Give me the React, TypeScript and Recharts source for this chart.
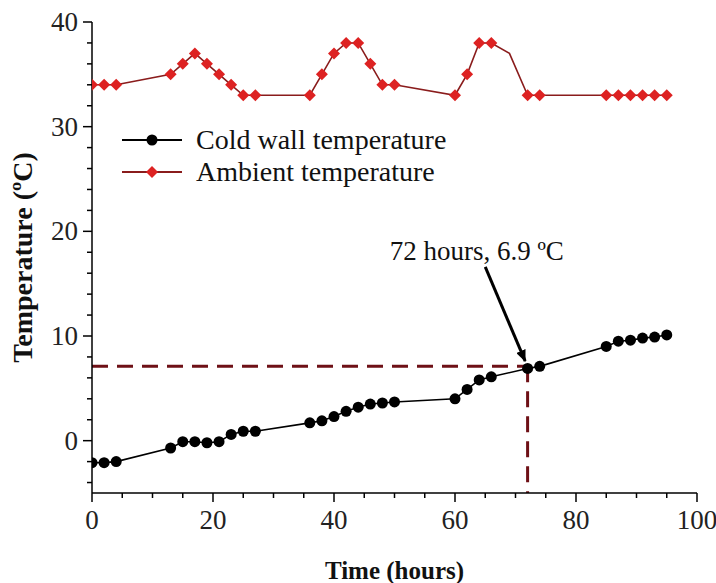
import React from "react";
import {
  ComposedChart,
  Line,
  XAxis,
  YAxis,
  ReferenceLine,
  ReferenceDot,
  Legend,
} from "recharts";

// Ambient temperature (red diamonds); the point at 69 h is only a bend in the line
const ambientTime = [0, 2, 4, 13, 15, 17, 19, 21, 23, 25, 27, 36, 38, 40, 42, 44, 46, 48, 50, 60, 62, 64, 66, 69, 72, 74, 85, 87, 89, 91, 93, 95];
const ambientTemp = [34, 34, 34, 35, 36, 37, 36, 35, 34, 33, 33, 33, 35, 37, 38, 38, 36, 34, 34, 33, 35, 38, 38, 37, 33, 33, 33, 33, 33, 33, 33, 33];
const ambientMarker = ambientTime.map((t) => t !== 69);

// Cold wall temperature (black circles)
const coldTime = [0, 2, 4, 13, 15, 17, 19, 21, 23, 25, 27, 36, 38, 40, 42, 44, 46, 48, 50, 60, 62, 64, 66, 72, 74, 85, 87, 89, 91, 93, 95];
const coldTemp = [-2.1, -2.1, -2.0, -0.7, -0.1, -0.1, -0.2, -0.1, 0.6, 0.9, 0.9, 1.7, 1.9, 2.3, 2.8, 3.2, 3.5, 3.6, 3.7, 4.0, 4.9, 5.8, 6.1, 6.9, 7.1, 9.0, 9.5, 9.6, 9.8, 9.9, 10.1];

// Ticks
const xTicks = [0, 5, 10, 15, 20, 25, 30, 35, 40, 45, 50, 55, 60, 65, 70, 75, 80, 85, 90, 95, 100];
const yTicks = [-4, -2, 0, 2, 4, 6, 8, 10, 12, 14, 16, 18, 20, 22, 24, 26, 28, 30, 32, 34, 36, 38, 40];

// Marked point
const markTime = 72;
const markTemp = 7.1;
const markLabel = "72 hours, 6.9 ºC";

const ambientData = ambientTime.map((t, i) => ({ t, v: ambientTemp[i], mark: ambientMarker[i] }));
const coldData = coldTime.map((t, i) => ({ t, v: coldTemp[i] }));

const FONT = "'Liberation Serif', 'Times New Roman', serif";
const RED_LINE = "#8a1c1c";
const RED_MARK = "#dd2222";
const DASH = "#6e1016";

const Diamond = ({ cx, cy, fill }: any) => (
  <polygon points={`${cx},${cy - 6} ${cx + 6},${cy} ${cx},${cy + 6} ${cx - 6},${cy}`} fill={fill} />
);

const ambientDot = (props: any) => {
  const { cx, cy, payload, index } = props;
  if (!payload.mark) return <g key={`a-${index}`} />;
  return <Diamond key={`a-${index}`} cx={cx} cy={cy} fill={RED_MARK} />;
};

const XTick = ({ x, y, payload }: any) => {
  const major = payload.value % 20 === 0;
  return (
    <g>
      <line x1={x} y1={y} x2={x} y2={y + (major ? 9 : 5)} stroke="#000" strokeWidth={1.5} />
      {major && (
        <text x={x} y={y + 36} textAnchor="middle" fontFamily={FONT} fontSize={27} fill="#222">
          {payload.value}
        </text>
      )}
    </g>
  );
};

const YTick = ({ x, y, payload }: any) => {
  const major = payload.value % 10 === 0;
  return (
    <g>
      <line x1={x - (major ? 9 : 5)} y1={y} x2={x} y2={y} stroke="#000" strokeWidth={1.5} />
      {major && (
        <text x={x - 14} y={y + 9} textAnchor="end" fontFamily={FONT} fontSize={27} fill="#222">
          {payload.value}
        </text>
      )}
    </g>
  );
};

const renderLegend = () => {
  const rows = [
    { name: "Cold wall temperature", color: "#000", mark: "circle" },
    { name: "Ambient temperature", color: RED_LINE, mark: "diamond" },
  ];
  return (
    <div style={{ fontFamily: FONT, fontSize: 28, color: "#111", lineHeight: "32px" }}>
      {rows.map((r) => (
        <div key={r.name} style={{ display: "flex", alignItems: "center", height: 32 }}>
          <svg width={76} height={20}>
            <line x1={2} y1={10} x2={62} y2={10} stroke={r.color} strokeWidth={2} />
            {r.mark === "circle" ? (
              <circle cx={32} cy={10} r={5.5} fill="#000" />
            ) : (
              <Diamond cx={32} cy={10} fill={RED_MARK} />
            )}
          </svg>
          <span>{r.name}</span>
        </div>
      ))}
    </div>
  );
};

export default function App() {
  return (
    <div style={{ position: "absolute", left: 0, top: 0, width: 716, height: 583, background: "#fff" }}>
      <ComposedChart width={716} height={583} margin={{ top: 22, right: 19, left: 0, bottom: 0 }}>
        <defs>
          <marker id="arrowHead" markerWidth="12" markerHeight="10" refX="11" refY="5" orient="auto" markerUnits="userSpaceOnUse">
            <path d="M0,0 L12,5 L0,10 Z" fill="#000" />
          </marker>
        </defs>
        <XAxis
          dataKey="t"
          type="number"
          domain={[0, 100]}
          ticks={xTicks}
          interval={0}
          height={90}
          tickSize={0}
          tickMargin={0}
          tickLine={false}
          axisLine={{ stroke: "#000", strokeWidth: 1.5 }}
          tick={<XTick />}
          allowDataOverflow
          label={{ value: "Time (hours)", position: "insideBottom", offset: 4, style: { fontFamily: FONT, fontSize: 25, fontWeight: "bold", fill: "#111" } }}
        />
        <XAxis xAxisId="top" orientation="top" type="number" domain={[0, 100]} height={0} tick={false} tickLine={false} axisLine={{ stroke: "#000", strokeWidth: 1.5 }} />
        <YAxis
          type="number"
          domain={[-5, 40]}
          ticks={yTicks}
          interval={0}
          width={92}
          tickSize={0}
          tickMargin={0}
          tickLine={false}
          axisLine={{ stroke: "#000", strokeWidth: 1.5 }}
          tick={<YTick />}
          allowDataOverflow
          label={{ value: "Temperature (ºC)", angle: -90, position: "insideLeft", offset: 22, style: { fontFamily: FONT, fontSize: 28, fontWeight: "bold", fill: "#111", textAnchor: "middle" } }}
        />
        <YAxis yAxisId="right" orientation="right" type="number" domain={[-5, 40]} width={0} tick={false} tickLine={false} axisLine={{ stroke: "#000", strokeWidth: 1.5 }} />
        <Legend
          content={renderLegend}
          layout="vertical"
          align="center"
          verticalAlign="middle"
          wrapperStyle={{ left: 120, top: 124, width: 380, height: 70 }}
        />
        <ReferenceLine
          segment={[{ x: 0, y: markTemp }, { x: markTime, y: markTemp }]}
          stroke={DASH}
          strokeWidth={3}
          strokeDasharray="16 9"
        />
        <ReferenceLine
          segment={[{ x: markTime, y: markTemp }, { x: markTime, y: -5 }]}
          stroke={DASH}
          strokeWidth={3}
          strokeDasharray="16 9"
        />
        <Line
          data={coldData}
          dataKey="v"
          type="linear"
          stroke="#000"
          strokeWidth={1.6}
          dot={{ r: 5.5, fill: "#000", stroke: "#000", strokeWidth: 0 }}
          isAnimationActive={false}
          legendType="none"
        />
        <Line
          data={ambientData}
          dataKey="v"
          type="linear"
          stroke={RED_LINE}
          strokeWidth={1.6}
          dot={ambientDot}
          isAnimationActive={false}
          legendType="none"
        />
        <ReferenceLine
          segment={[{ x: 65, y: 16.6 }, { x: 71.6, y: 7.6 }]}
          stroke="#000"
          strokeWidth={3}
          markerEnd="url(#arrowHead)"
        />
        <ReferenceDot
          x={63.6}
          y={18.2}
          r={0}
          fill="none"
          stroke="none"
          label={{ value: markLabel, position: "center", style: { fontFamily: FONT, fontSize: 27, fill: "#111" } }}
        />
      </ComposedChart>
    </div>
  );
}
